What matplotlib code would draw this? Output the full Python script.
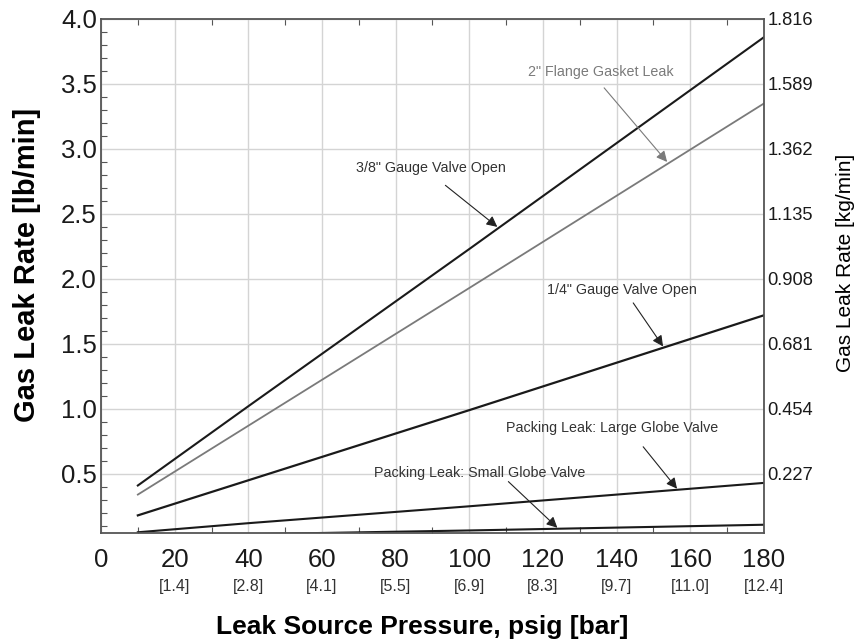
import numpy as np
import matplotlib.pyplot as plt
from matplotlib.ticker import MultipleLocator

plt.rcParams['font.family'] = ['Liberation Sans', 'DejaVu Sans']

# pressure points [psig]
pressure = [10, 40, 100, 180]

# leak rates [lb/min]
valve_38 = [0.41, 1.02, 2.23, 3.86]
flange_2 = [0.34, 0.87, 1.93, 3.35]
valve_14 = [0.18, 0.45, 0.99, 1.72]
large_globe = [0.05, 0.12, 0.25, 0.43]
small_globe = [0.02, 0.035, 0.064, 0.108]

x_ticks = [0, 20, 40, 60, 80, 100, 120, 140, 160, 180]
bar_labels = ["", "[1.4]", "[2.8]", "[4.1]", "[5.5]", "[6.9]", "[8.3]", "[9.7]", "[11.0]", "[12.4]"]
y_ticks = [0.5, 1.0, 1.5, 2.0, 2.5, 3.0, 3.5, 4.0]
kg_labels = ["0.227", "0.454", "0.681", "0.908", "1.135", "1.362", "1.589", "1.816"]

BLACK = '#1a1a1a'
GREY = '#7a7a7a'

fig = plt.figure(figsize=(8.56, 6.39), dpi=100)
ax = fig.add_axes([0.118, 0.166, 0.7745, 0.8043])

ax.plot(pressure, valve_38, color=BLACK, lw=1.5)
ax.plot(pressure, flange_2, color=GREY, lw=1.3)
ax.plot(pressure, valve_14, color=BLACK, lw=1.6)
ax.plot(pressure, large_globe, color=BLACK, lw=1.5)
ax.plot(pressure, small_globe, color=BLACK, lw=1.5)

ax.set_xlim(0, 180)
ax.set_ylim(0.045, 4.0)
ax.set_xticks(x_ticks)
ax.set_yticks(y_ticks)
ax.set_yticklabels([f"{v:.1f}" for v in y_ticks])
ax.xaxis.set_minor_locator(MultipleLocator(10))
ax.yaxis.set_minor_locator(MultipleLocator(0.1))
ax.grid(True, which='major', color='#d4d4d4', lw=1.0)
ax.set_axisbelow(True)
ax.tick_params(which='major', length=0, labelsize=18.5, colors='#1a1a1a')
ax.tick_params(axis='y', which='major', pad=3)
ax.tick_params(axis='x', which='major', pad=11)
ax.tick_params(which='minor', direction='in', length=4, color='#555555', top=True, width=0.8)
ax.tick_params(axis='y', which='minor', right=False)
for s in ax.spines.values():
    s.set_color('#555555')
    s.set_linewidth(1.3)

# bar values under the psig tick labels
for xv, lab in zip(x_ticks, bar_labels):
    ax.text(xv, -0.104, lab, transform=ax.get_xaxis_transform(), ha='center', va='center',
            fontsize=11.5, color='#333333')

ax.set_xlabel("Leak Source Pressure, psig [bar]", fontsize=19, fontweight='bold')
ax.xaxis.set_label_coords(0.484, -0.160)
ax.set_ylabel("Gas Leak Rate [lb/min]", fontsize=21, fontweight='bold')
ax.yaxis.set_label_coords(-0.0905, 0.521)

ax2 = ax.twinx()
ax2.set_ylim(ax.get_ylim())
ax2.set_yticks(y_ticks)
ax2.set_yticklabels(kg_labels)
ax2.tick_params(length=0, labelsize=13.2, pad=2.5, colors='#1a1a1a')
for s in ax2.spines.values():
    s.set_visible(False)
ax2.set_ylabel("Gas Leak Rate [kg/min]", fontsize=15, labelpad=16)
ax2.yaxis.label.set_y(0.525)

# annotations
notes = [
    ("3/8\" Gauge Valve Open", (89.5, 2.85), (93.5, 2.72), (107.6, 2.40), '#333333'),
    ("2\" Flange Gasket Leak", (135.8, 3.59), (136.6, 3.47), (153.7, 2.90), GREY),
    ("1/4\" Gauge Valve Open", (141.5, 1.915), (144.5, 1.815), (152.6, 1.48), '#333333'),
    ("Packing Leak: Large Globe Valve", (138.8, 0.854), (147.2, 0.708), (156.4, 0.385), '#333333'),
    ("Packing Leak: Small Globe Valve", (102.7, 0.508), (110.6, 0.44), (123.9, 0.085), '#333333'),
]
for label, tpos, tail, head, col in notes:
    ax.text(tpos[0], tpos[1], label, ha='center', va='center', fontsize=10.3, color=col)
    ax.annotate('', xy=head, xytext=tail,
                arrowprops=dict(arrowstyle='-|>', color=col if col == GREY else '#222222',
                                lw=0.8, mutation_scale=16, shrinkA=0, shrinkB=0))

fig.savefig("out.png", dpi=100)
